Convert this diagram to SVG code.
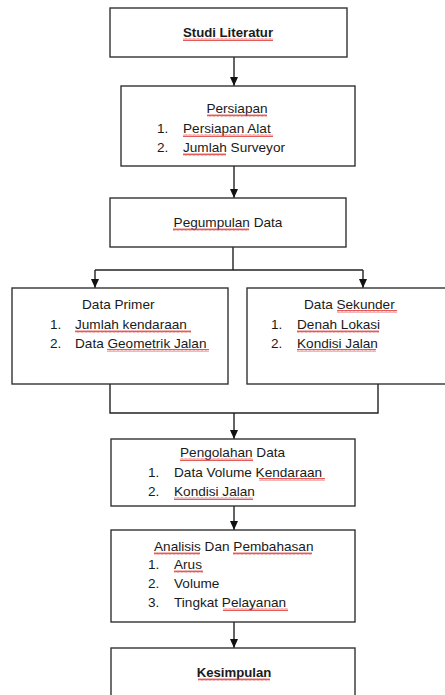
<svg xmlns="http://www.w3.org/2000/svg" width="445" height="695" viewBox="0 0 445 695">
<style>
.box{fill:#fff;stroke:#333;stroke-width:1.4}
.t{font-family:"Liberation Sans",Arial,sans-serif;font-size:13.6px;fill:#1a1a1a}
.b{font-weight:bold;font-size:13.2px}
.m{text-anchor:middle}
.c{fill:none;stroke:#222;stroke-width:1.4}
.sq{fill:url(#sq)}
</style>
<defs>
<marker id="ah" markerWidth="9" markerHeight="8" refX="9" refY="4" orient="auto" markerUnits="userSpaceOnUse" viewBox="0 0 9 8">
<path d="M0,0 L9,4 L0,8 Z" fill="#111"/>
</marker>
<pattern id="sq" width="4" height="3" patternUnits="userSpaceOnUse">
<path d="M0,2.5 L1,0.5 L2,2.5 L3,0.5 L4,2.5" fill="none" stroke="#e03030" stroke-width="0.8"/>
</pattern>
</defs>
<rect width="445" height="695" fill="#fff"/>
<g id="connectors">
<path class="c" d="M234,57 V86" marker-end="url(#ah)"/>
<path class="c" d="M234,166 V198" marker-end="url(#ah)"/>
<path class="c" d="M233,247 V270"/>
<path class="c" d="M95,270 H363"/>
<path class="c" d="M95,270 V288" marker-end="url(#ah)"/>
<path class="c" d="M363,270 V288" marker-end="url(#ah)"/>
<path class="c" d="M110,384 V413 H378 V384"/>
<path class="c" d="M234,413 V439" marker-end="url(#ah)"/>
<path class="c" d="M234,506 V530" marker-end="url(#ah)"/>
<path class="c" d="M234,622 V648" marker-end="url(#ah)"/>
</g>
<g id="studi">
<rect class="box" x="110" y="8" width="237" height="49"/>
<text class="t b m" x="228" y="37">Studi Literatur</text>
<rect class="sq" x="183" y="38" width="90" height="3"/>
</g>
<g id="persiapan">
<rect class="box" x="121" y="86" width="234" height="80"/>
<text class="t m" x="237" y="113">Persiapan</text>
<text class="t" x="157" y="133">1.</text>
<text class="t" x="183" y="133">Persiapan Alat</text>
<text class="t" x="157" y="152">2.</text>
<text class="t" x="183" y="152">Jumlah  Surveyor</text>
<rect class="sq" x="207" y="114" width="60" height="3"/>
<rect class="sq" x="183" y="134" width="90" height="3"/>
<rect class="sq" x="183" y="153" width="43" height="3"/>
</g>
<g id="pengumpulan">
<rect class="box" x="110" y="198" width="236" height="49"/>
<text class="t m" x="228" y="227">Pegumpulan  Data</text>
<rect class="sq" x="173" y="228" width="76" height="3"/>
</g>
<g id="primer">
<rect class="box" x="12" y="288" width="216" height="96"/>
<text class="t" x="82" y="309">Data Primer</text>
<text class="t" x="50" y="329">1.</text>
<text class="t" x="75" y="329">Jumlah kendaraan</text>
<text class="t" x="50" y="348">2.</text>
<text class="t" x="75" y="348">Data Geometrik Jalan</text>
<rect class="sq" x="75" y="330" width="116" height="3"/>
<rect class="sq" x="107" y="349" width="102" height="3"/>
</g>
<g id="sekunder">
<rect class="box" x="247" y="288" width="205" height="96"/>
<text class="t" x="304" y="309">Data Sekunder</text>
<text class="t" x="271" y="329">1.</text>
<text class="t" x="297" y="329">Denah Lokasi</text>
<text class="t" x="271" y="348">2.</text>
<text class="t" x="297" y="348">Kondisi Jalan</text>
<rect class="sq" x="337" y="310" width="60" height="3"/>
<rect class="sq" x="297" y="330" width="82" height="3"/>
<rect class="sq" x="297" y="349" width="79" height="3"/>
</g>
<g id="pengolahan">
<rect class="box" x="111" y="439" width="244" height="67"/>
<text class="t" x="180" y="457">Pengolahan  Data</text>
<text class="t" x="148" y="477">1.</text>
<text class="t" x="174" y="477">Data Volume Kendaraan</text>
<text class="t" x="148" y="496">2.</text>
<text class="t" x="174" y="496">Kondisi Jalan</text>
<rect class="sq" x="180" y="458" width="73" height="3"/>
<rect class="sq" x="259" y="478" width="66" height="3"/>
<rect class="sq" x="174" y="497" width="79" height="3"/>
</g>
<g id="analisis">
<rect class="box" x="111" y="530" width="244" height="92"/>
<text class="t" x="154" y="551">Analisis  Dan Pembahasan</text>
<text class="t" x="148" y="569">1.</text>
<text class="t" x="174" y="569">Arus</text>
<text class="t" x="148" y="588">2.</text>
<text class="t" x="174" y="588">Volume</text>
<text class="t" x="148" y="607">3.</text>
<text class="t" x="174" y="607">Tingkat Pelayanan</text>
<rect class="sq" x="154" y="552" width="46" height="3"/>
<rect class="sq" x="233" y="552" width="79" height="3"/>
<rect class="sq" x="174" y="570" width="29" height="3"/>
<rect class="sq" x="223" y="608" width="65" height="3"/>
</g>
<g id="kesimpulan">
<rect class="box" x="111" y="648" width="244" height="60"/>
<text class="t b m" x="234" y="677">Kesimpulan</text>
<rect class="sq" x="198" y="678" width="72" height="3"/>
</g>
</svg>
